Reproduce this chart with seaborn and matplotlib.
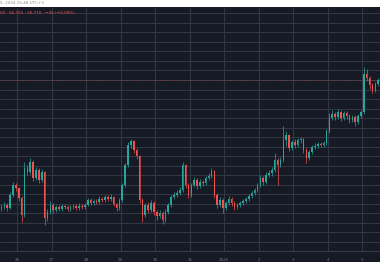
import numpy as np
import pandas as pd
import matplotlib
matplotlib.use("Agg")
import matplotlib.pyplot as plt
import seaborn as sns

# ---- data (2-hour candles, price in chart units) ----
close = [44, 46, 43, 56, 66, 63, 53, 36, 83, 79, 89, 73, 81, 71, 79, 33,
         39, 46, 41, 44, 42, 45, 44, 42, 44, 45, 43, 45, 44, 46, 51, 48,
         50, 49, 52, 51, 54, 52, 54, 47, 43, 51, 66, 86, 106, 110, 101, 95,
         51, 36, 46, 41, 48, 39, 35, 38, 31, 39, 46, 54, 56, 58, 61, 86,
         66, 56, 66, 71, 65, 69, 68, 73, 75, 80, 56, 46, 51, 43, 48, 52,
         48, 44, 46, 48, 50, 52, 55, 58, 61, 66, 73, 69, 76, 78, 81, 91,
         86, 91, 111, 116, 103, 109, 106, 111, 112, 101, 93, 99, 104, 105, 107, 106,
         108, 120, 133, 137, 134, 139, 133, 138, 135, 131, 134, 129, 135, 139, 177, 173,
         166, 161, 167, 171]
high = [47, 49, 48, 59, 69, 68, 64, 55, 89, 86, 93, 91, 84, 83, 82, 80,
        42, 50, 48, 46, 46, 47, 47, 46, 46, 47, 47, 48, 47, 48, 53, 53,
        52, 52, 55, 54, 56, 56, 57, 55, 48, 53, 68, 88, 109, 112, 111, 103,
        96, 53, 48, 49, 51, 50, 41, 41, 40, 42, 48, 56, 59, 61, 64, 89,
        87, 68, 68, 74, 73, 72, 71, 75, 78, 83, 81, 58, 54, 53, 50, 55,
        54, 50, 48, 50, 52, 54, 57, 60, 63, 68, 76, 75, 79, 81, 84, 98,
        93, 94, 125, 120, 117, 111, 112, 113, 114, 113, 103, 101, 106, 108, 109, 109,
        110, 122, 138, 141, 139, 142, 141, 140, 140, 137, 136, 136, 137, 141, 184, 182,
        175, 168, 169, 173]
low = [40, 42, 40, 42, 54, 60, 50, 29, 34, 76, 77, 70, 71, 68, 69, 26,
       30, 37, 38, 39, 40, 40, 42, 40, 40, 42, 41, 41, 42, 42, 45, 46,
       46, 47, 47, 49, 49, 50, 50, 45, 40, 41, 49, 64, 84, 103, 98, 92,
       48, 29, 34, 38, 39, 36, 31, 33, 27, 29, 37, 44, 52, 54, 56, 59,
       63, 53, 54, 64, 62, 63, 65, 66, 71, 73, 53, 43, 44, 38, 41, 46,
       45, 41, 42, 44, 46, 48, 50, 53, 56, 59, 64, 66, 67, 74, 75, 79,
       66, 84, 89, 105, 100, 101, 103, 104, 108, 98, 88, 91, 97, 102, 103, 104,
       104, 106, 118, 131, 131, 132, 130, 131, 132, 128, 129, 125, 127, 133, 137, 170,
       162, 158, 159, 165]
first_open = 42
tick_days = [0, 1, 2, 3, 4, 5, 6, 7, 8, 9, 10]
tick_labels = ["26", "27", "28", "29", "30", "31", "2025", "2", "3", "4", "5"]
last_price = 171

n = len(close)
df = pd.DataFrame({
    "t": -0.5 + (np.arange(n) + 0.5) / 12.0,
    "open": [first_open] + close[:-1],
    "close": close,
    "high": high,
    "low": low,
})
df["up"] = df["close"] >= df["open"]

sns.set_theme(style="dark")
BG = "#161a25"
UP = "#26a69a"
DN = "#ef5350"
GRID = "#343846"

fig = plt.figure(figsize=(3.8, 2.8), dpi=100)
fig.patch.set_facecolor("white")
# dark panel behind everything
bg_ax = fig.add_axes([0, 18 / 280, 1, (262 - 7) / 280], zorder=-5)
bg_ax.set_facecolor(BG)
bg_ax.set_xticks([])
bg_ax.set_yticks([])
for s in bg_ax.spines.values():
    s.set_visible(False)

ax = fig.add_axes([0, 29 / 280, 1, (251 - 8) / 280], zorder=1)
ax.set_facecolor(BG)

cols = np.where(df["up"], UP, DN)
ax.vlines(df["t"], df["low"], df["high"], colors=cols, linewidth=0.5, zorder=3)
body_b = np.minimum(df["open"], df["close"])
body_h = np.maximum(np.abs(df["close"] - df["open"]), 0.8)
ax.bar(df["t"], body_h, bottom=body_b, width=0.045, color=cols,
       linewidth=0, zorder=4)

ax.axhline(last_price, color=DN, linestyle=(0, (1, 1.5)), linewidth=0.5,
           alpha=0.6, zorder=2)

ax.set_xlim(-0.501, 10.51)
ax.set_ylim(0, 243)
ax.set_yticks(np.arange(9, 243, 9.53))
ax.set_xticks(tick_days)
ax.set_xticklabels([])
ax.tick_params(length=0, labelleft=False)
ax.grid(True, color=GRID, linewidth=0.7, zorder=0)
ax.set_axisbelow(True)
for s in ["top", "right", "left"]:
    ax.spines[s].set_visible(False)
ax.spines["bottom"].set_color("#3a3e4a")
ax.spines["bottom"].set_linewidth(0.7)

for d, lab in zip(tick_days, tick_labels):
    ax.annotate(lab, xy=(d, 0), xycoords="data", xytext=(0, -6.2),
                textcoords="offset points", ha="center", va="center",
                fontsize=3, color="#6f7380", annotation_clip=False)

fig.text(0.0, 1 - 3.5 / 280, "5, 2024 15:48 UTC+3", fontsize=3,
         color="#8a8a8a", ha="left", va="center")
fig.text(0.0, 1 - 12.5 / 280, "00 \u00b7 56,765 \u00b7 56,710 \u00b7 \u221245 (\u22120.08%)",
         fontsize=3, color=DN, ha="left", va="center", zorder=5)

fig.savefig("out.png", dpi=100, facecolor="white")
